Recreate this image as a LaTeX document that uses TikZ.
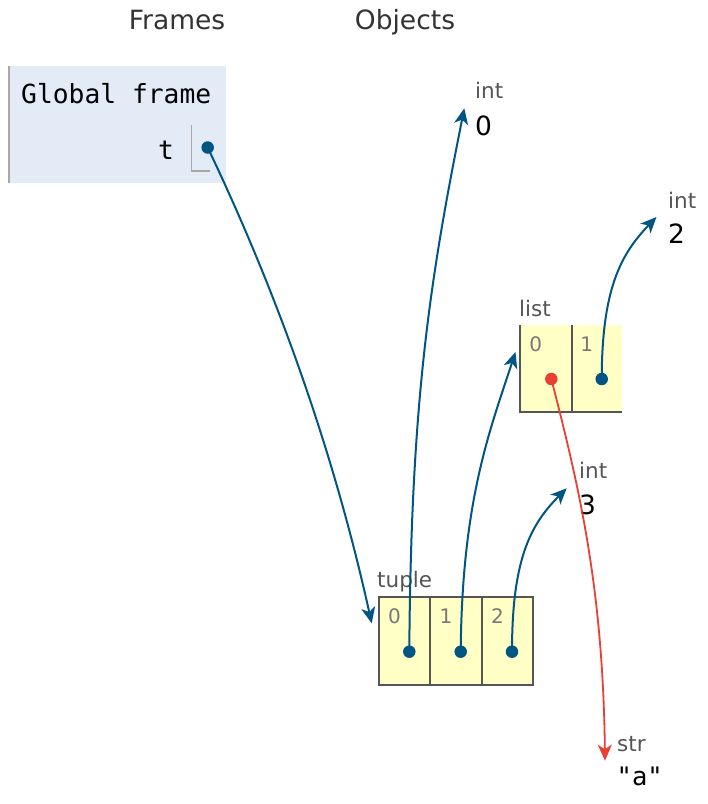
\documentclass[tikz,border=0pt]{standalone}
\usepackage{fontspec}
\setmainfont{DejaVu Sans}
\setmonofont{DejaVu Sans Mono}
\usetikzlibrary{arrows.meta}
\definecolor{ptrblue}{HTML}{005583}
\definecolor{ptrred}{HTML}{E93F34}
\definecolor{framebg}{HTML}{E2EBF6}
\definecolor{frameedge}{HTML}{A8A8A8}
\definecolor{heapfill}{HTML}{FFFFC6}
\definecolor{boxline}{HTML}{555555}
\definecolor{typegray}{HTML}{555555}
\definecolor{idxgray}{HTML}{777777}
\definecolor{headgray}{HTML}{333333}
\tikzset{
  heading/.style={font=\fontsize{26.5}{30}\selectfont, text=headgray, anchor=base, inner sep=0pt},
  monolab/.style={font=\ttfamily\fontsize{26.3}{30}\selectfont, text=black, inner sep=0pt},
  typelab/.style={font=\fontsize{21.5}{25}\selectfont, text=typegray, anchor=base west, inner sep=0pt},
  vallab/.style={font=\fontsize{26.5}{30}\selectfont, text=black, anchor=base west, inner sep=0pt},
  strlab/.style={font=\ttfamily\fontsize{25.5}{30}\selectfont, text=black, anchor=base west, inner sep=0pt},
  idxlab/.style={font=\fontsize{20}{23}\selectfont, text=idxgray, anchor=base, inner sep=0pt},
  dotb/.style={circle, inner sep=0pt, minimum size=12.5pt, fill=ptrblue},
  dotr/.style={circle, inner sep=0pt, minimum size=12.5pt, fill=ptrred},
  ptr/.style={draw=ptrblue, line width=2pt, -{Stealth[length=16pt,width=14pt,inset=4.5pt]}},
  ptrr/.style={draw=ptrred, line width=1.8pt, -{Stealth[length=16pt,width=14pt,inset=4.5pt]}},
  heapbox/.style={draw=boxline, line width=2pt, fill=heapfill},
  heapline/.style={draw=boxline, line width=2pt},
}
\begin{document}
\begin{tikzpicture}[x=1pt,y=-1pt]
\useasboundingbox (0,0) rectangle (708,804);
\fill[white] (0,0) rectangle (708,804);

% headings
\node[heading] (hframes) at (177,29.3) {Frames};
\node[heading] (hobjects) at (405,29.3) {Objects};

% global frame
\fill[framebg] (9,66) rectangle (226,183);
\draw[frameedge, line width=2pt] (9,66) -- (9,183);
\node[monolab, anchor=base west] (gf) at (21,103.3) {Global frame};
\node[monolab, anchor=base] (tvar) at (166,159) {t};
\draw[frameedge, line width=1.5pt] (191.7,125) -- (191.7,171) -- (209.5,171);
\node[dotb] (dT) at (207.7,147.5) {};

% int 0
\node[typelab] (int0t) at (475,98.3) {int};
\node[vallab] (int0v) at (475,135) {0};
\coordinate (int0in) at (464.3,108.3);

% int 2
\node[typelab] (int2t) at (668,208) {int};
\node[vallab] (int2v) at (668,243) {2};
\coordinate (int2in) at (656.5,217);

% int 3
\node[typelab] (int3t) at (579,478) {int};
\node[vallab] (int3v) at (579,514) {3};
\coordinate (int3in) at (566.7,488.3);

% str
\node[typelab] (strt) at (617,751.7) {str};
\node[strlab] (strv) at (616.5,785) {"a"};
\coordinate (strin) at (605,760.7);

% list
\node[typelab] (listt) at (519,316) {list};
\fill[heapfill] (520,325) rectangle (622,411.7);
\draw[heapline] (520,325) -- (520,411.7) -- (622,411.7);
\draw[heapline] (571.7,325) -- (571.7,411.7);
\node[idxlab] (l0) at (535.8,351.5) {0};
\node[idxlab] (l1) at (586.7,351.5) {1};
\node[dotr] (dL0) at (551.3,379) {};
\node[dotb] (dL1) at (601.7,379) {};
\coordinate (listin) at (515.5,352);

% tuple
\node[typelab] (tuplet) at (377,587) {tuple};
\draw[heapbox] (379,597.3) rectangle (533,684.7);
\draw[heapline] (430,597.3) -- (430,684.7);
\draw[heapline] (482,597.3) -- (482,684.7);
\node[idxlab] (u0) at (394.5,623.5) {0};
\node[idxlab] (u1) at (446,623.5) {1};
\node[idxlab] (u2) at (497.5,623.5) {2};
\node[dotb] (dU0) at (409.3,651.7) {};
\node[dotb] (dU1) at (460.7,651.7) {};
\node[dotb] (dU2) at (512,651.7) {};
\coordinate (tuplein) at (371.7,623.3);

% pointers
\draw[ptr] (dT.center) .. controls (290,320) and (340,480) .. (tuplein);
\draw[ptr] (dU0.center) .. controls (411,400) and (430,280) .. (int0in);
\draw[ptr] (dU1.center) .. controls (462,500) and (490,430) .. (listin);
\draw[ptr] (dU2.center) .. controls (512,560) and (530,525) .. (int3in);
\draw[ptr] (dL1.center) .. controls (602,290) and (620,255) .. (int2in);
\draw[ptrr] (dL0.center) .. controls (580,490) and (603,590) .. (strin);
\end{tikzpicture}
\end{document}
